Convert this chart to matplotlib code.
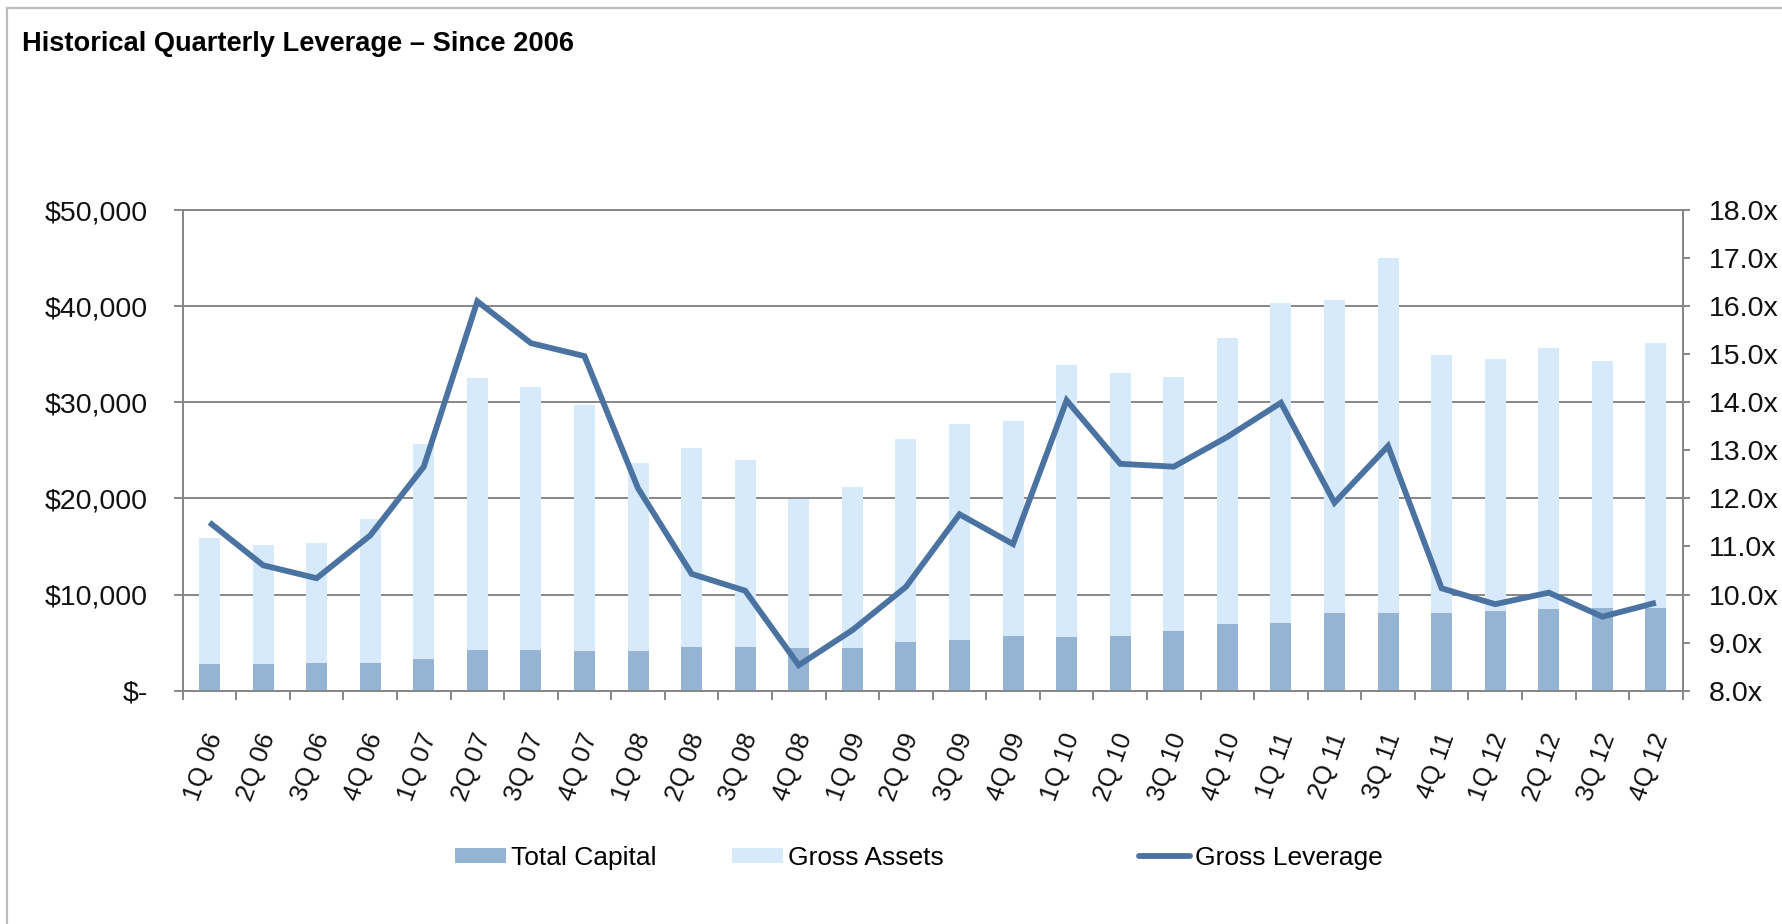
import matplotlib
matplotlib.use('Agg')
import matplotlib.pyplot as plt
import matplotlib.transforms as mtransforms
from matplotlib.lines import Line2D
from matplotlib.patches import Patch
from matplotlib.ticker import FuncFormatter
import numpy as np

# ---------------- data ----------------
quarters = ['1Q 06', '2Q 06', '3Q 06', '4Q 06',
            '1Q 07', '2Q 07', '3Q 07', '4Q 07',
            '1Q 08', '2Q 08', '3Q 08', '4Q 08',
            '1Q 09', '2Q 09', '3Q 09', '4Q 09',
            '1Q 10', '2Q 10', '3Q 10', '4Q 10',
            '1Q 11', '2Q 11', '3Q 11', '4Q 11',
            '1Q 12', '2Q 12', '3Q 12', '4Q 12']

gross_assets = [15900, 15200, 15400, 17900,
                25700, 32500, 31600, 29700,
                23700, 25200, 24000, 19900,
                21200, 26200, 27750, 28050,
                33900, 33000, 32600, 36700,
                40300, 40600, 45050, 34900,
                34500, 35600, 34300, 36200]

total_capital = [2750, 2750, 2850, 2850,
                 3250, 4200, 4250, 4150,
                 4130, 4550, 4530, 4480,
                 4400, 5100, 5250, 5650,
                 5550, 5700, 6250, 6950,
                 7050, 8130, 8130, 8130,
                 8250, 8480, 8580, 8580]

gross_leverage = [11.50, 10.61, 10.34, 11.23,
                  12.66, 16.10, 15.23, 14.96,
                  12.21, 10.43, 10.08, 8.53,
                  9.26, 10.16, 11.67, 11.05,
                  14.04, 12.72, 12.66, 13.28,
                  13.99, 11.91, 13.09, 10.13,
                  9.80, 10.04, 9.54, 9.83]

left_ticks = [0, 10000, 20000, 30000, 40000, 50000]
right_ticks = [8, 9, 10, 11, 12, 13, 14, 15, 16, 17, 18]

title = 'Historical Quarterly Leverage \u2013 Since 2006'
series_names = ['Total Capital', 'Gross Assets', 'Gross Leverage']

# ---------------- style ----------------
C_CAP = '#95B4D3'
C_GA = '#D6EAFC'
C_LINE = '#4B73A2'
C_GRID = '#878787'
C_FRAME = '#BDBDBD'

NARROW = ['Liberation Sans Narrow', 'Liberation Sans', 'DejaVu Sans']
TICKF = ['Liberation Sans', 'DejaVu Sans']

W, H = 1782, 924
fig = plt.figure(figsize=(W / 100, H / 100), dpi=100)

# outer frame (left and top edges visible)
fig.add_artist(Line2D([7 / W, 7 / W], [0, 1 - 8 / H], transform=fig.transFigure,
                      color=C_FRAME, lw=1.6))
fig.add_artist(Line2D([7 / W, 1], [1 - 8 / H, 1 - 8 / H], transform=fig.transFigure,
                      color=C_FRAME, lw=1.6))

fig.text(22 / W, 1 - 51 / H, title, family=NARROW, weight='bold', fontsize=19.6,
         ha='left', va='baseline', color='black')

ax_l, ax_r, ax_t, ax_b = 182.7, 1682.7, 210.0, 690.7
ax = fig.add_axes([ax_l / W, 1 - ax_b / H, (ax_r - ax_l) / W, (ax_b - ax_t) / H])

x = np.arange(len(quarters))
bw = 0.39
ax.bar(x, gross_assets, width=bw, color=C_GA, zorder=2)
ax.bar(x, total_capital, width=bw, color=C_CAP, zorder=3)
ax.set_xlim(-0.5, len(quarters) - 0.5)
ax.set_ylim(0, 50000)
ax.set_yticks(left_ticks)
ax.yaxis.grid(True, color=C_GRID, lw=1.4)
ax.set_axisbelow(True)

def money(v, pos):
    if v == 0:
        return '$-'
    return '${:,.0f}'.format(v)

ax.yaxis.set_major_formatter(FuncFormatter(money))
ax.tick_params(axis='y', which='major', length=6.5, width=1.4, color=C_GRID,
               pad=18.5, labelsize=20.5, labelcolor='#111111')
for lbl in ax.get_yticklabels():
    lbl.set_family(TICKF)

ax.set_xticks(x)
ax.set_xticklabels(quarters)
ax.set_xticks(np.arange(-0.5, len(quarters), 1.0), minor=True)
ax.tick_params(axis='x', which='major', length=0, pad=31, labelsize=18.5,
               labelcolor='#111111')
ax.tick_params(axis='x', which='minor', length=6.5, width=1.4, color=C_GRID)
offset = mtransforms.ScaledTranslation(6 / 100, 0, fig.dpi_scale_trans)
for lbl in ax.get_xticklabels():
    lbl.set_family(TICKF)
    lbl.set_rotation(70)
    lbl.set_rotation_mode('anchor')
    lbl.set_ha('right')
    lbl.set_va('center')
    lbl.set_transform(lbl.get_transform() + offset)

for s in ax.spines.values():
    s.set_color(C_GRID)
    s.set_linewidth(1.4)

ax2 = ax.twinx()
ax2.plot(x, gross_leverage, color=C_LINE, lw=4.2, solid_joinstyle='miter',
         solid_capstyle='butt', zorder=5)
ax2.set_ylim(8, 18)
ax2.set_yticks(right_ticks)
ax2.yaxis.set_major_formatter(FuncFormatter(lambda v, p: '{:.1f}x'.format(v)))
ax2.tick_params(axis='y', length=5, width=1.4, color=C_GRID, pad=13.5,
                labelsize=20.5, labelcolor='#111111')
for lbl in ax2.get_yticklabels():
    lbl.set_family(TICKF)
for s in ax2.spines.values():
    s.set_color(C_GRID)
    s.set_linewidth(1.4)

# ---------------- legend ----------------
handles = [Patch(facecolor=C_CAP, edgecolor='none'),
           Patch(facecolor=C_GA, edgecolor='none'),
           Line2D([], [], color=C_LINE, lw=4.2, solid_capstyle='round')]
starts = [455, 732, 1139]
leg_y = 1 - 858 / H
for h, name, sx in zip(handles, series_names, starts):
    fig.legend([h], [name], loc='center left', bbox_to_anchor=(sx / W, leg_y),
               frameon=False, borderpad=0, borderaxespad=0,
               handlelength=1.93, handleheight=0.53, handletextpad=0.19,
               prop={'family': NARROW, 'size': 19})

fig.savefig('out.png', dpi=100, facecolor='white')
